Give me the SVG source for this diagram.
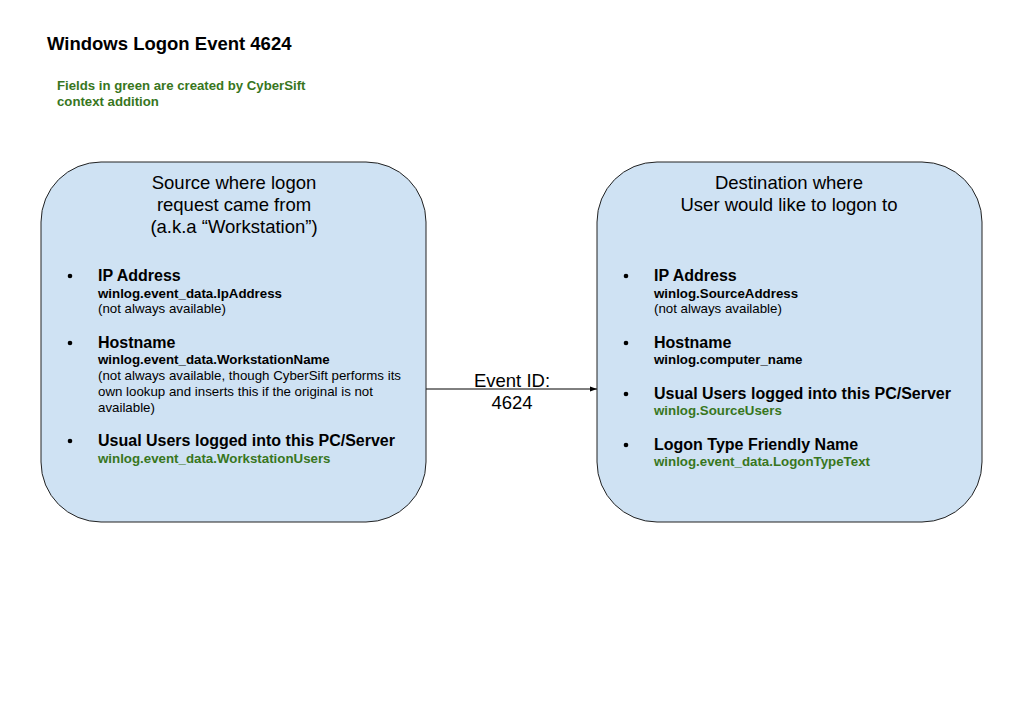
<svg xmlns="http://www.w3.org/2000/svg" width="1024" height="712" viewBox="0 0 1024 712">
<style>
text{font-family:"Liberation Sans",Arial,sans-serif;fill:#000}
.title{font-size:18.5px;font-weight:bold}
.note{font-size:13.2px;font-weight:bold;fill:#38761d}
.box{fill:#cfe2f3;stroke:#222;stroke-width:1}
.head{font-size:18.5px;text-anchor:middle}
.h{font-size:16px;font-weight:bold}
.f{font-size:13.3px;font-weight:bold}
.g{font-size:13.3px;font-weight:bold;fill:#38761d}
.n{font-size:13.3px}
.lbl{font-size:18.5px;text-anchor:middle}
</style>
<defs>
<marker id="arr" markerWidth="8" markerHeight="8" refX="7" refY="4" orient="auto" markerUnits="userSpaceOnUse">
<path d="M0,1.5 L7,4 L0,6.5 Z" fill="#000"/>
</marker>
</defs>
<rect width="1024" height="712" fill="#fff"/>
<text class="title" x="47" y="50">Windows Logon Event 4624</text>
<text class="note" x="57" y="90">Fields in green are created by CyberSift</text>
<text class="note" x="57" y="106">context addition</text>
<g id="connectors">
<line x1="426" y1="389" x2="597" y2="389" stroke="#000" stroke-width="1" marker-end="url(#arr)"/>
<text class="lbl" x="512" y="387">Event ID:</text>
<text class="lbl" x="512" y="409">4624</text>
</g>
<g id="source">
<rect class="box" x="41" y="162" width="385" height="360" rx="60" ry="60"/>
<text class="head" x="234" y="189">Source where logon</text>
<text class="head" x="234" y="211">request came from</text>
<text class="head" x="234" y="233">(a.k.a “Workstation”)</text>
<circle cx="70" cy="276" r="2.3"/>
<text class="h" x="98" y="281">IP Address</text>
<text class="f" x="98" y="298">winlog.event_data.IpAddress</text>
<text class="n" x="98" y="313">(not always available)</text>
<circle cx="70" cy="343" r="2.3"/>
<text class="h" x="98" y="348">Hostname</text>
<text class="f" x="98" y="364">winlog.event_data.WorkstationName</text>
<text class="n" x="98" y="380">(not always available, though CyberSift performs its</text>
<text class="n" x="98" y="396">own lookup and inserts this if the original is not</text>
<text class="n" x="98" y="412">available)</text>
<circle cx="70" cy="441" r="2.3"/>
<text class="h" x="98" y="446">Usual Users logged into this PC/Server</text>
<text class="g" x="98" y="463">winlog.event_data.WorkstationUsers</text>
</g>
<g id="destination">
<rect class="box" x="597" y="162" width="385" height="360" rx="60" ry="60"/>
<text class="head" x="789" y="189">Destination where</text>
<text class="head" x="789" y="211">User would like to logon to</text>
<circle cx="626" cy="276" r="2.3"/>
<text class="h" x="654" y="281">IP Address</text>
<text class="f" x="654" y="298">winlog.SourceAddress</text>
<text class="n" x="654" y="313">(not always available)</text>
<circle cx="626" cy="343" r="2.3"/>
<text class="h" x="654" y="348">Hostname</text>
<text class="f" x="654" y="364">winlog.computer_name</text>
<circle cx="626" cy="394" r="2.3"/>
<text class="h" x="654" y="399">Usual Users logged into this PC/Server</text>
<text class="g" x="654" y="415">winlog.SourceUsers</text>
<circle cx="626" cy="445" r="2.3"/>
<text class="h" x="654" y="450">Logon Type Friendly Name</text>
<text class="g" x="654" y="466">winlog.event_data.LogonTypeText</text>
</g>
</svg>
